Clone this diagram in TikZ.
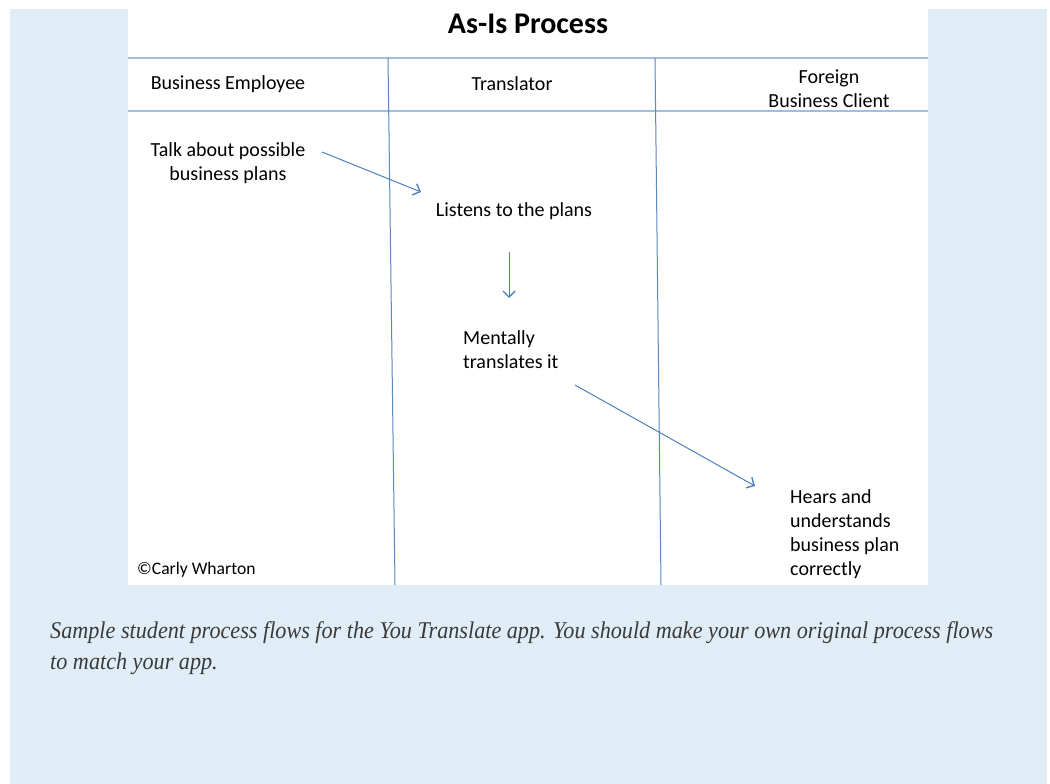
\documentclass[tikz,border=0pt]{standalone}
\usepackage{fontspec}
\setmainfont{Carlito}
\newfontfamily\capfont{Liberation Serif}
\usetikzlibrary{arrows.meta}
\definecolor{pagebg}{HTML}{E1EDF6}
\definecolor{lanecol}{HTML}{5B87C2}
\definecolor{sepcol}{HTML}{A3BEDD}
\definecolor{arrcol}{HTML}{4F81BD}
\definecolor{captxt}{HTML}{3A3A3A}
\tikzset{
  lbl/.style={inner sep=0pt, font=\fontsize{20}{24}\selectfont, text=black},
  ttl/.style={inner sep=0pt, font=\fontsize{30}{36}\selectfont\bfseries, text=black},
  flow/.style={draw=arrcol, line width=1pt, -{Straight Barb[length=6pt,width=12pt,line width=1.4pt]}},
  lane/.style={draw=lanecol, line width=1pt},
  sep/.style={draw=sepcol, line width=1.2pt}
}
\begin{document}
\begin{tikzpicture}[x=1pt,y=-1pt]
\useasboundingbox (0,0) rectangle (1050,784);
\fill[white] (0,0) rectangle (1050,784);
\fill[pagebg] (10,9) rectangle (1047,784);
\fill[white] (128,0) rectangle (928,585);
% separators and lanes
\draw[sep] (128,58) -- (928,58);
\draw[sep] (128,111) -- (928,111);
\draw[lane] (388,58) -- (395,585);
\draw[lane] (655,58) -- (661,585);
% texts
\node[ttl] (title) at (528,24) {As-Is Process};
\node[lbl] (h1) at (228,84) {Business Employee};
\node[lbl] (h2) at (512,84) {Translator};
\node[lbl, align=center] (h3) at (829,89) {Foreign\\Business Client};
\node[lbl, align=center] (talk) at (228,163) {Talk about possible\\business plans};
\node[lbl] (listen) at (514,211) {Listens to the plans};
\node[lbl, align=left, anchor=west] (mental) at (463,350) {Mentally\\translates it};
\node[lbl, align=left, anchor=west] (hears) at (790,534) {Hears and\\understands\\business plan\\correctly};
\node[inner sep=0pt, anchor=west, font=\fontsize{17.6}{22}\selectfont] (copy) at (137,570) {©Carly Wharton};
% arrow end points
\coordinate (a1s) at (322,152);
\coordinate (a1e) at (421,192);
\coordinate (a2s) at (509,252);
\coordinate (a2e) at (509,298);
\coordinate (a3s) at (575,385);
\coordinate (a3e) at (755,486);
\draw[flow] (a1s) -- (a1e);
\draw[flow] (a2s) -- (a2e);
\draw[flow] (a3s) -- (a3e);
% caption
\node[inner sep=0pt, anchor=west, text=captxt] (cap) at (50,648) {\resizebox{943pt}{\height}{\capfont\itshape\fontsize{24}{31}\selectfont
\begin{tabular}{@{}l@{}}Sample student process flows for the You Translate app. You should make your own original process flows\\ to match your app.\end{tabular}}};
\end{tikzpicture}
\end{document}
